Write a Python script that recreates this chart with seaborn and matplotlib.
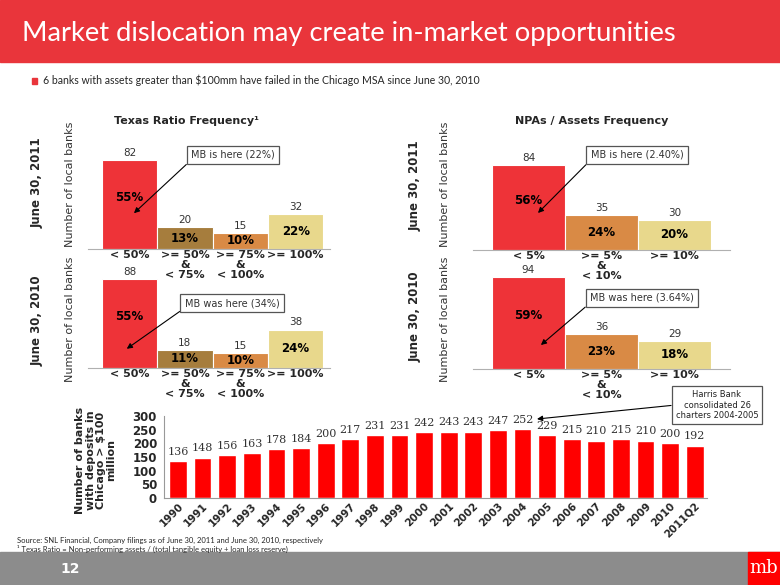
import matplotlib
matplotlib.use("Agg")
import matplotlib.pyplot as plt
import pandas as pd
import seaborn as sns
from matplotlib.patches import Rectangle

# --- data ---
texas_cats = ["< 50%", ">= 50%\n&\n< 75%", ">= 75%\n&\n< 100%", ">= 100%"]
texas_2011 = [82, 20, 15, 32]
texas_2011_pct = [55, 13, 10, 22]
texas_2010 = [88, 18, 15, 38]
texas_2010_pct = [55, 11, 10, 24]

npa_cats = ["< 5%", ">= 5%\n&\n< 10%", ">= 10%"]
npa_2011 = [84, 35, 30]
npa_2011_pct = [56, 24, 20]
npa_2010 = [94, 36, 29]
npa_2010_pct = [59, 23, 18]

years = [str(y) for y in range(1990, 2011)] + ["2011Q2"]
bank_counts = [136, 148, 156, 163, 178, 184, 200, 217, 231, 231, 242,
               243, 243, 247, 252, 229, 215, 210, 215, 210, 200, 192]

RED = "#EE3338"
texas_colors = [RED, "#A67D3D", "#D98A45", "#E8D88C"]
npa_colors = [RED, "#D98A45", "#E8D88C"]
NARROW = ["Lato", "DejaVu Sans"]

W, H = 780, 585
sns.set_style("white")
plt.rcParams["font.family"] = ["DejaVu Sans"]

fig = plt.figure(figsize=(W / 100, H / 100), dpi=100)


def px_axes(x0, y0, x1, y1):
    ax = fig.add_axes([x0 / W, 1 - y1 / H, (x1 - x0) / W, (y1 - y0) / H])
    ax.patch.set_visible(False)
    return ax


def fx(x, y):
    return (x / W, 1 - y / H)


def freq_panel(box, cats, vals, pcts, colors, ymax, xlim):
    ax = px_axes(*box)
    df = pd.DataFrame({"cat": cats, "n": vals})
    sns.barplot(data=df, x="cat", y="n", hue="cat", palette=colors, legend=False,
                saturation=1, width=1.0, edgecolor="white", linewidth=0.8, ax=ax)
    ax.set_ylim(0, ymax)
    ax.set_xlim(*xlim)
    for i, (v, p) in enumerate(zip(vals, pcts)):
        ax.annotate(str(v), (i, v), xytext=(0, 1.5), textcoords="offset points",
                    ha="center", va="bottom", fontsize=7.5, color="#333333")
        yp = v * 0.58 if i == 0 else v * 0.5
        ax.text(i, yp, f"{p}%", ha="center", va="center", fontsize=8.5,
                fontweight="bold", color="black")
    ax.set_xlabel("")
    ax.set_ylabel("")
    ax.set_yticks([])
    for s in ["left", "right", "top"]:
        ax.spines[s].set_visible(False)
    ax.spines["bottom"].set_color("#b0b0b0")
    ax.tick_params(axis="x", length=0, pad=1)
    for t in ax.get_xticklabels():
        t.set_fontweight("bold")
        t.set_fontsize(8)
        t.set_linespacing(1.0)
    return ax


ax_tl = freq_panel((88, 145, 330, 249), texas_cats, texas_2011, texas_2011_pct,
                   texas_colors, 95.8, (-0.75, 3.62))
ax_bl = freq_panel((88, 270, 330, 368), texas_cats, texas_2010, texas_2010_pct,
                   texas_colors, 96.9, (-0.75, 3.62))
ax_tr = freq_panel((473, 145, 730, 250), npa_cats, npa_2011, npa_2011_pct,
                   npa_colors, 103.8, (-0.76, 2.76))
ax_br = freq_panel((473, 268, 730, 369), npa_cats, npa_2010, npa_2010_pct,
                   npa_colors, 103.2, (-0.76, 2.76))

box_style = dict(boxstyle="square,pad=0.45", fc="white", ec="#555555", lw=0.9)
arrow_style = dict(arrowstyle="-|>", color="black", lw=0.8, relpos=(0, 0),
                   mutation_scale=8, shrinkA=0, shrinkB=0)
notes = [
    (ax_tl, "MB is here (22%)", (0.08, 33), (233, 155)),
    (ax_bl, "MB was here (34%)", (-0.05, 19), (232, 303)),
    (ax_tr, "MB is here (2.40%)", (0.13, 36.6), (637, 155)),
    (ax_br, "MB was here (3.64%)", (0.17, 24.5), (642, 298)),
]
for ax, txt, xy, pos in notes:
    ax.annotate(txt, xy=xy, xycoords="data", xytext=fx(*pos),
                textcoords="figure fraction", ha="center", va="center",
                fontsize=7, color="#333333", bbox=box_style, arrowprops=arrow_style)

# panel titles and side labels
fig.text(*fx(186, 121), "Texas Ratio Frequency\u00b9", ha="center", va="center",
         fontsize=8, fontweight="bold")
fig.text(*fx(592, 121), "NPAs / Assets Frequency", ha="center", va="center",
         fontsize=8, fontweight="bold")
for x, y, t in [(37, 183, "June 30, 2011"), (37, 321, "June 30, 2010"),
                (415, 186, "June 30, 2011"), (415, 317, "June 30, 2010")]:
    fig.text(*fx(x, y), t, rotation=90, ha="center", va="center", fontsize=8.5,
             fontweight="bold")
for x, y in [(70, 184), (70, 319), (445, 184), (445, 319)]:
    fig.text(*fx(x, y), "Number of local banks", rotation=90, ha="center",
             va="center", fontsize=8, color="#333333")

# --- bottom history chart ---
ax_b = px_axes(164, 416, 707, 498)
hist = pd.DataFrame({"year": years, "banks": bank_counts})
sns.barplot(data=hist, x="year", y="banks", color="#FF0000", saturation=1,
            width=0.72, ax=ax_b)
ax_b.set_ylim(0, 300)
ax_b.set_xlim(-0.57, len(years) - 0.5)
ax_b.set_yticks(range(0, 301, 50))
ax_b.set_xlabel("")
ax_b.set_ylabel("")
for i, v in enumerate(bank_counts):
    ax_b.annotate(str(v), (i, v), xytext=(0, 3), textcoords="offset points",
                  ha="center", va="bottom", fontsize=8, color="#333333",
                  family="DejaVu Serif")
for s in ["right", "top"]:
    ax_b.spines[s].set_visible(False)
for s in ["left", "bottom"]:
    ax_b.spines[s].set_color("#999999")
ax_b.set_xticks([i + 0.5 for i in range(-1, len(years))], minor=True)
ax_b.tick_params(axis="x", which="major", length=0, pad=2)
ax_b.tick_params(axis="x", which="minor", length=3, color="#999999", direction="out")
ax_b.tick_params(axis="y", length=3, color="#999999", direction="out", pad=2)
ax_b.set_xticks(range(len(years)))
ax_b.set_xticklabels(years, rotation=45, ha="right", rotation_mode="anchor",
                     fontsize=7.5, fontweight="bold")
for t in ax_b.get_yticklabels():
    t.set_fontweight("bold")
    t.set_fontsize(8.5)
fig.text(*fx(96, 460), "Number of banks\nwith deposits in\nChicago > $100\nmillion",
         rotation=90, ha="center", va="center", fontsize=8, fontweight="bold",
         linespacing=1.05)
ax_b.annotate("Harris Bank\nconsolidated 26\ncharters 2004-2005", xy=(14.59, 289),
              xycoords="data", xytext=fx(717, 405), textcoords="figure fraction",
              ha="center", va="center", fontsize=6, color="#222222",
              bbox=dict(boxstyle="square,pad=0.5", fc="white", ec="#555555", lw=0.9),
              arrowprops=dict(arrowstyle="-|>", color="black", lw=0.8,
                              relpos=(0, 0.5), mutation_scale=8,
                              shrinkA=0, shrinkB=0))

# --- slide chrome ---
fig.patches.append(Rectangle((0, 1 - 62 / H), 1, 62 / H, transform=fig.transFigure,
                             color="#E9353B", zorder=0))
fig.text(*fx(22, 34), "Market dislocation may create in-market opportunities",
         ha="left", va="center", fontsize=19.7, color="white", family=NARROW)
fig.patches.append(Rectangle(fx(32, 84), 5 / W, 6 / H, transform=fig.transFigure,
                             color="#E9353B"))
fig.text(*fx(43, 80),
         "6 banks with assets greater than $100mm have failed in the Chicago MSA since June 30, 2010",
         ha="left", va="center", fontsize=7.6, family=NARROW)
fig.text(*fx(17, 540),
         "Source: SNL Financial, Company filings as of June 30, 2011 and June 30, 2010, respectively",
         ha="left", va="center", fontsize=5.5, family=NARROW)
fig.text(*fx(17, 549),
         "\u00b9 Texas Ratio = Non-performing assets / (total tangible equity + loan loss reserve)",
         ha="left", va="center", fontsize=5.5, family=NARROW)
fig.patches.append(Rectangle((0, 0), 1, 33 / H, transform=fig.transFigure,
                             color="#8C8C8C", zorder=0))
fig.patches.append(Rectangle((748 / W, 0), 32 / W, 33 / H, transform=fig.transFigure,
                             color="#FF0000", zorder=1))
fig.text(*fx(70, 569), "12", ha="center", va="center", fontsize=10,
         fontweight="bold", color="white")
fig.text(*fx(764, 568), "mb", ha="center", va="center", fontsize=13,
         color="white", family="DejaVu Serif")

fig.savefig("out.png", dpi=100)
